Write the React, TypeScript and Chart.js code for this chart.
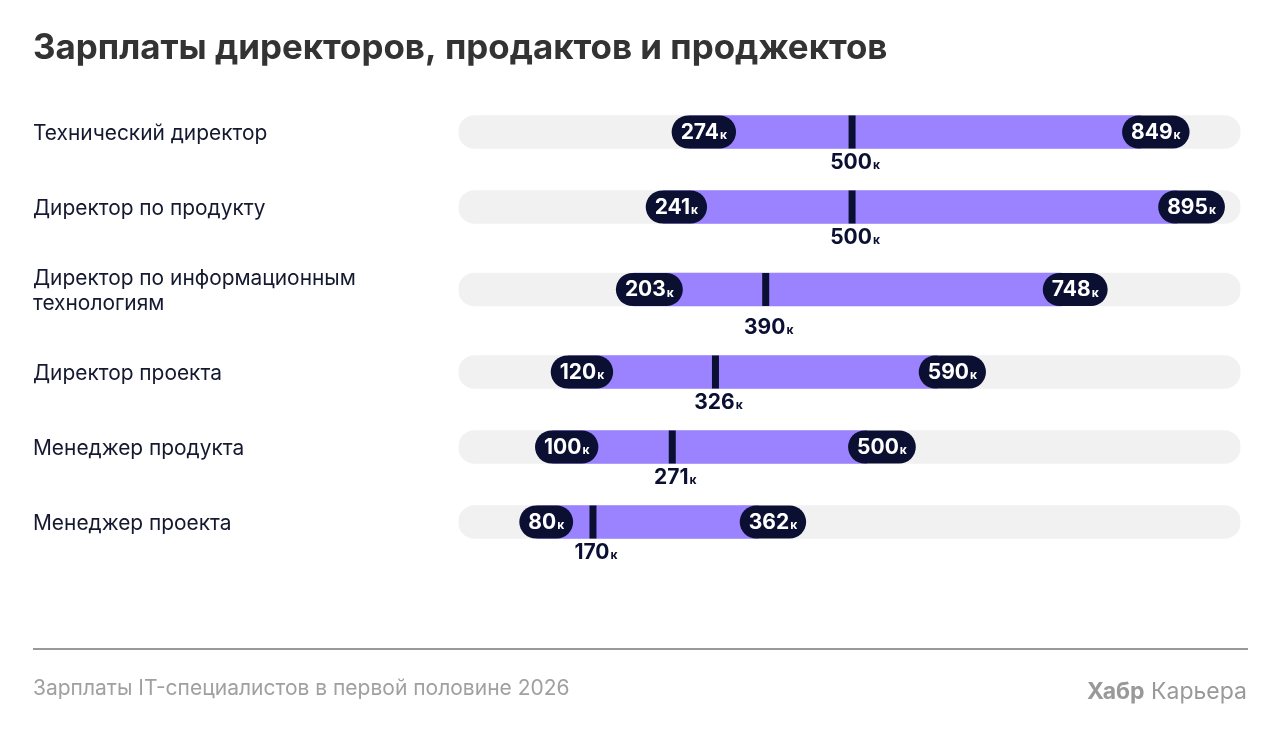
import Chart from 'chart.js/auto';
import { useEffect, useRef } from 'react';

const roles = [
  ['Технический директор'],
  ['Директор по продукту'],
  ['Директор по информационным', 'технологиям'],
  ['Директор проекта'],
  ['Менеджер продукта'],
  ['Менеджер проекта'],
];
const lows = [274, 241, 203, 120, 100, 80];
const medians = [500, 500, 390, 326, 271, 170];
const highs = [849, 895, 748, 590, 500, 362];
const AXIS_MAX = 996;
// the purple band starts and ends under the pills, so their round corners sit right
const PILL_INSET = 20;

// rows with a wrapped label are taller, so the y axis runs in "row units"
const rowHeights = roles.map(r => (r.length > 1 ? 90 : 75));
const rowCenters = rowHeights.map((h, i) =>
  rowHeights.slice(0, i).reduce((sum, v) => sum + v, 0) + h / 2 - rowHeights[0] / 2
);

const NAVY = '#0b1033';
const FONT = 'Inter';

const drawAmount = (ctx: CanvasRenderingContext2D, value: number, x: number, y: number, color: string) => {
  ctx.fillStyle = color;
  ctx.textAlign = 'left';
  ctx.textBaseline = 'middle';
  ctx.font = `700 21px ${FONT}`;
  const w = ctx.measureText(String(value)).width;
  ctx.fillText(String(value), x, y);
  ctx.font = `700 12px ${FONT}`;
  ctx.fillText('к', x + w + 1, y + 3);
};

const amountWidth = (ctx: CanvasRenderingContext2D, value: number) => {
  ctx.font = `700 21px ${FONT}`;
  const w = ctx.measureText(String(value)).width;
  ctx.font = `700 12px ${FONT}`;
  return w + 1 + ctx.measureText('к').width;
};

const drawPill = (ctx: CanvasRenderingContext2D, value: number, left: number, y: number) => {
  const w = amountWidth(ctx, value) + 18;
  ctx.fillStyle = NAVY;
  ctx.beginPath();
  ctx.roundRect(left, y - 16.5, w, 33, 16.5);
  ctx.fill();
  drawAmount(ctx, value, left + 9, y + 0.5, '#ffffff');
};

const markersPlugin = {
  id: 'markers',
  afterDatasetsDraw(chart: Chart) {
    const { ctx, scales } = chart;
    const xs = scales.x;
    const ys = scales.y;
    ctx.save();
    rowCenters.forEach((row, i) => {
      const y = ys.getPixelForValue(row);

      const mx = xs.getPixelForValue(medians[i]);
      ctx.fillStyle = NAVY;
      ctx.fillRect(mx - 2.5, y - 16.5, 7, 33);
      const mw = amountWidth(ctx, medians[i]);
      drawAmount(ctx, medians[i], mx + 4 - mw / 2, y + rowHeights[i] / 2 - 7, NAVY);

      drawPill(ctx, lows[i], xs.getPixelForValue(lows[i]) - 2, y);
      drawPill(ctx, highs[i], xs.getPixelForValue(highs[i]) - 3, y);
    });
    ctx.restore();
  },
};

const App = () => {
  const chartRef = useRef<HTMLCanvasElement>(null);

  useEffect(() => {
    if (!chartRef.current) return;

    const chart = new Chart(chartRef.current, {
      type: 'bar',
      data: {
        datasets: [
          {
            label: 'Диапазон',
            data: rowCenters.map((row, i) => ({ x: [lows[i] + PILL_INSET, highs[i] + PILL_INSET], y: row })),
            backgroundColor: '#9b82ff',
            barThickness: 33,
            grouped: false,
            order: 1,
          },
          {
            label: 'Шкала',
            data: rowCenters.map(row => ({ x: [0, AXIS_MAX], y: row })),
            backgroundColor: '#f1f1f1',
            barThickness: 33,
            borderRadius: 17,
            borderSkipped: false,
            grouped: false,
            order: 2,
          },
        ] as any,
      },
      options: {
        indexAxis: 'y',
        animation: false,
        responsive: false,
        layout: { padding: { left: 33, right: 39.5, top: 0, bottom: 130 } },
        plugins: {
          legend: { display: false },
          tooltip: { enabled: false },
          title: {
            display: true,
            text: 'Зарплаты директоров, продактов и проджектов',
            align: 'start',
            color: '#333333',
            font: { family: FONT, size: 34.9, weight: 700, lineHeight: 1.2 },
            padding: { top: 28, bottom: 30.1 },
          },
        },
        scales: {
          x: { type: 'linear', display: false, min: 0, max: AXIS_MAX },
          y: {
            type: 'linear',
            offset: false,
            reverse: true,
            min: -32,
            max: 468,
            grid: { display: false },
            border: { display: false },
            afterBuildTicks: scale => {
              scale.ticks = rowCenters.map(value => ({ value }));
            },
            afterFit: scale => {
              scale.width = 425.5;
            },
            ticks: {
              autoSkip: false,
              crossAlign: 'far',
              padding: 0,
              labelOffset: 1.5,
              color: '#14192f',
              font: { family: FONT, size: 20.9, lineHeight: 1.2 },
              callback: (_value, index) => roles[index],
            },
          },
        },
      },
      plugins: [markersPlugin],
    });

    return () => {
      chart.destroy();
    };
  }, []);

  return (
    <div style={{ position: 'absolute', left: 0, top: 0, width: 1280, height: 730, background: '#fff', overflow: 'hidden' }}>
      <canvas ref={chartRef} width={1280} height={730} style={{ display: 'block' }} />
      <div style={{ position: 'absolute', left: 33, top: 648, width: 1215, height: 2, background: '#999999' }} />
      <div style={{ position: 'absolute', left: 33, top: 675, fontFamily: FONT, fontSize: 21, lineHeight: '26px', color: '#a0a0a0' }}>
        Зарплаты IT-специалистов в первой половине 2026
      </div>
      <div style={{ position: 'absolute', right: 33, top: 678, fontFamily: FONT, fontSize: 23, lineHeight: '27px', color: '#999999' }}>
        <b>Хабр</b> Карьера
      </div>
    </div>
  );
};

export default App;
